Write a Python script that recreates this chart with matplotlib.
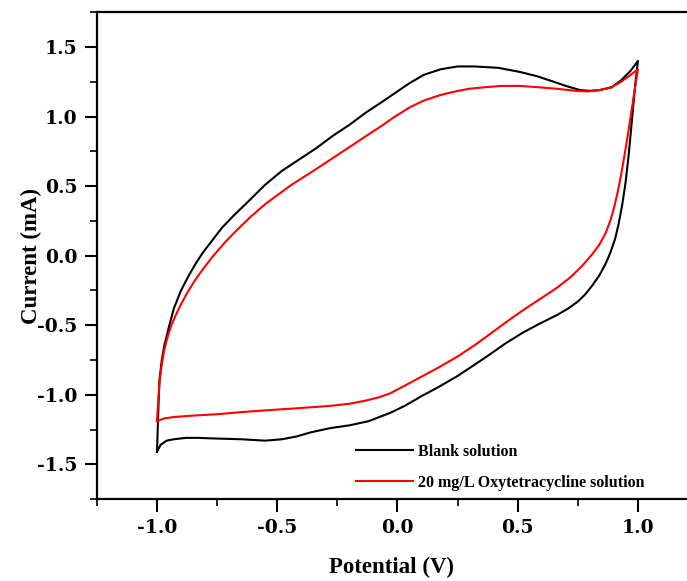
import numpy as np
import matplotlib.pyplot as plt
from matplotlib.ticker import MultipleLocator

# Blank solution: forward sweep (-1 -> 1) then reverse sweep (1 -> -1)
blank_x = [-1.0, -0.985, -0.96, -0.93, -0.88, -0.83, -0.75, -0.65, -0.55, -0.48, -0.42, -0.36,
           -0.28, -0.20, -0.12, -0.03, 0.03, 0.10, 0.17, 0.25, 0.32, 0.38, 0.45, 0.52, 0.59,
           0.66, 0.71, 0.75, 0.78, 0.81, 0.84, 0.865, 0.885, 0.905, 0.92, 0.935, 0.948, 0.96,
           0.97, 0.98, 0.99, 1.0,
           0.97, 0.93, 0.89, 0.84, 0.80, 0.76, 0.70, 0.65, 0.58, 0.51, 0.42, 0.32, 0.25, 0.18,
           0.11, 0.05, -0.06, -0.13, -0.20, -0.27, -0.34, -0.41, -0.48, -0.55, -0.62, -0.68,
           -0.73, -0.77, -0.81, -0.84, -0.87, -0.90, -0.93, -0.95, -0.97, -0.98, -0.99,
           -0.993, -0.997, -1.0]
blank_y = [-1.41, -1.36, -1.33, -1.32, -1.31, -1.31, -1.315, -1.32, -1.33, -1.32, -1.30, -1.27,
           -1.24, -1.22, -1.19, -1.13, -1.08, -1.01, -0.945, -0.865, -0.785, -0.715, -0.63, -0.555,
           -0.49, -0.43, -0.38, -0.33, -0.28, -0.215, -0.14, -0.06, 0.02, 0.12, 0.23, 0.37, 0.52,
           0.70, 0.88, 1.07, 1.25, 1.40,
           1.33, 1.26, 1.21, 1.19, 1.185, 1.19, 1.22, 1.25, 1.29, 1.32, 1.35, 1.36, 1.36, 1.34,
           1.30, 1.24, 1.11, 1.03, 0.94, 0.86, 0.77, 0.69, 0.61, 0.51, 0.39, 0.29,
           0.20, 0.11, 0.02, -0.06, -0.15, -0.25, -0.38, -0.51, -0.65, -0.75, -0.90,
           -1.04, -1.25, -1.41]

# 20 mg/L Oxytetracycline solution
otc_x = [-1.0, -0.97, -0.93, -0.85, -0.75, -0.65, -0.53, -0.40, -0.28, -0.20, -0.14, -0.08,
         -0.03, 0.03, 0.10, 0.17, 0.25, 0.32, 0.38, 0.45, 0.52, 0.59, 0.66, 0.72, 0.77, 0.81,
         0.84, 0.865, 0.885, 0.90, 0.915, 0.93, 0.945, 0.96, 0.975, 0.99, 1.0,
         0.97, 0.93, 0.89, 0.84, 0.79, 0.74, 0.66, 0.59, 0.51, 0.43, 0.36, 0.30, 0.24, 0.18,
         0.11, 0.05, -0.01, -0.06, -0.13, -0.20, -0.27, -0.34, -0.44, -0.55, -0.61, -0.67, -0.72,
         -0.77, -0.81, -0.845, -0.875, -0.90, -0.92, -0.94, -0.955, -0.97, -0.98, -0.99,
         -0.995, -1.0]
otc_y = [-1.19, -1.17, -1.16, -1.15, -1.14, -1.125, -1.11, -1.095, -1.08, -1.065, -1.045, -1.02,
         -0.99, -0.935, -0.87, -0.805, -0.725, -0.645, -0.57, -0.48, -0.395, -0.315, -0.235,
         -0.155, -0.07, 0.01, 0.08, 0.16, 0.25, 0.34, 0.45, 0.58, 0.73, 0.89, 1.06, 1.23, 1.34,
         1.30, 1.25, 1.21, 1.19, 1.18, 1.185, 1.20, 1.21, 1.22, 1.22, 1.21, 1.20, 1.18, 1.155,
         1.115, 1.065, 1.0, 0.94, 0.86, 0.78, 0.70, 0.62, 0.51, 0.37, 0.28, 0.18, 0.09,
         -0.01, -0.10, -0.185, -0.27, -0.35, -0.42, -0.50, -0.58, -0.68, -0.78, -0.92,
         -1.05, -1.19]

plt.rcParams['font.family'] = ['DejaVu Serif']
plt.rcParams['font.weight'] = 'bold'
plt.rcParams['axes.unicode_minus'] = False

fig = plt.figure(figsize=(6.87, 5.81), dpi=100)
ax = fig.add_axes([0.141, 0.141, 0.859, 0.838])

ax.plot(blank_x, blank_y, color='black', lw=1.5, label='Blank solution')
ax.plot(otc_x, otc_y, color='red', lw=1.5, label='20 mg/L Oxytetracycline solution')

ax.set_xlim(-1.25, 1.204)
ax.set_ylim(-1.75, 1.75)
ax.xaxis.set_major_locator(MultipleLocator(0.5))
ax.xaxis.set_minor_locator(MultipleLocator(0.25))
ax.yaxis.set_major_locator(MultipleLocator(0.5))
ax.yaxis.set_minor_locator(MultipleLocator(0.25))
ax.tick_params(which='major', direction='out', length=9, width=1.5, labelsize=13.5, pad=5)
ax.tick_params(which='minor', direction='out', length=5, width=1.2)
ax.tick_params(top=False, right=False)
for s in ['left', 'bottom', 'top']:
    ax.spines[s].set_linewidth(1.6)
ax.spines['right'].set_visible(False)

ax.set_xlabel('Potential (V)', fontsize=16.5, fontweight='bold', labelpad=15,
              family='Liberation Serif')
ax.set_ylabel('Current (mA)', fontsize=16.5, fontweight='bold',
              family='Liberation Serif')
ax.yaxis.set_label_coords(-0.093, 0.5)

leg = ax.legend(loc='lower left', bbox_to_anchor=(0.414, -0.013), frameon=False,
                prop={'family': 'Liberation Serif', 'weight': 'bold', 'size': 11.5},
                handlelength=3.6, handletextpad=0.3, labelspacing=0.95)

fig.savefig('out.png', dpi=100)
